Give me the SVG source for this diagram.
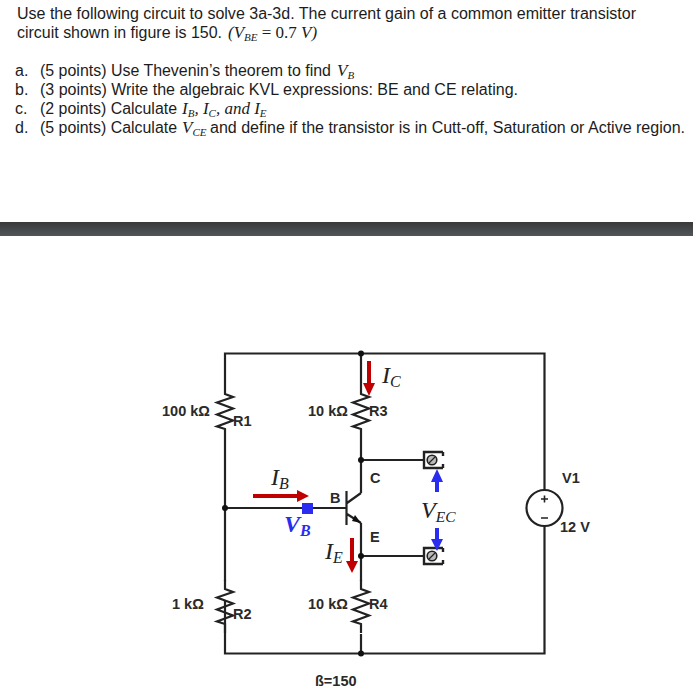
<svg xmlns="http://www.w3.org/2000/svg" width="693" height="699" viewBox="0 0 693 699">
<defs>
<style>
.t{font-family:"Liberation Sans",Arial,sans-serif;font-size:16px;fill:#1c1c1c}
.m{font-family:"Liberation Serif","Times New Roman",serif;font-style:italic;font-size:17px;fill:#1c1c1c}
.l{font-family:"Liberation Sans",Arial,sans-serif;font-size:14.500px;font-weight:bold;fill:#2a2a2a}
.cm{font-family:"Liberation Serif","Times New Roman",serif;font-style:italic;font-size:24px;fill:#222}
.w{fill:none;stroke:#222;stroke-width:2.2}
.red{fill:none;stroke:#c00000;stroke-width:4}
.blue{fill:none;stroke:#2a2cf0;stroke-width:4}
.dot{fill:#111}
</style>
<linearGradient id="bar" x1="0" y1="0" x2="0" y2="1"><stop offset="0" stop-color="#38393b"/><stop offset="1" stop-color="#525558"/></linearGradient>
<g id="term"><path d="M10 -8H-9V8H10" fill="none" stroke="#222" stroke-width="2.4"/><path d="M10 -8V-4M10 4V8" fill="none" stroke="#222" stroke-width="2.4"/><circle cx="-1" cy="0" r="4.8" fill="#bbb" stroke="#222" stroke-width="1.6"/><line x1="-4" y1="3" x2="2" y2="-3" stroke="#222" stroke-width="1.3"/></g>
<path id="res" d="M0 0L0 9L8 12L-8 17.500L8 23.500L-8 29.500L8 35.500L-8 41.500L0 44L0 53"/>
</defs>
<rect width="693" height="699" fill="#fff"/>
<g id="question">
<text class="t" x="17" y="19" textLength="619" lengthAdjust="spacingAndGlyphs">Use the following circuit to solve 3a-3d. The current gain of a common emitter transistor</text>
<text class="t" x="17" y="38" textLength="205" lengthAdjust="spacingAndGlyphs">circuit shown in figure is 150.</text>
<text class="m" x="228" y="38">(V<tspan font-size="11" dy="3">BE</tspan><tspan dy="-3" font-style="normal"> = 0.7 </tspan>V)</text>
<text class="t" x="15" y="76">a.</text>
<text class="t" x="40" y="76" textLength="291" lengthAdjust="spacingAndGlyphs">(5 points) Use Thevenin’s theorem to find</text>
<text class="m" x="337" y="76">V<tspan font-size="11" dy="3">B</tspan></text>
<text class="t" x="15" y="95">b.</text>
<text class="t" x="40" y="95" textLength="478" lengthAdjust="spacingAndGlyphs">(3 points) Write the algebraic KVL expressions: BE and CE relating.</text>
<text class="t" x="15" y="114">c.</text>
<text class="t" x="40" y="114" textLength="137" lengthAdjust="spacingAndGlyphs">(2 points) Calculate</text>
<text class="m" x="182" y="114">I<tspan font-size="11" dy="3">B</tspan><tspan dy="-3">, I</tspan><tspan font-size="11" dy="3">C</tspan><tspan dy="-3">,  and  I</tspan><tspan font-size="11" dy="3">E</tspan></text>
<text class="t" x="15" y="133">d.</text>
<text class="t" x="40" y="133" textLength="137" lengthAdjust="spacingAndGlyphs">(5 points) Calculate</text>
<text class="m" x="182" y="133">V<tspan font-size="11" dy="3">CE</tspan></text>
<text class="t" x="210" y="133" textLength="475" lengthAdjust="spacingAndGlyphs">and define if the transistor is in Cutt-off, Saturation or Active region.</text>
</g>
<rect id="divider" x="0" y="222" width="693" height="14" fill="url(#bar)"/>
<g id="connectors">
<path class="w" d="M225 385V353.500H544.500V490M544.500 526V653.500H225V600M225 438V581M225 508H347M361 353.500V385M361 438V493M361 460H424M361 523V581M361 556H424M361 653.500V634"/>
</g>
<g id="R1"><use href="#res" class="w" x="225" y="385"/><text class="l" x="162" y="416">100 kΩ</text><text class="l" x="233" y="426">R1</text></g>
<g id="R2"><use href="#res" class="w" x="225" y="580"/><text class="l" x="172" y="609">1 kΩ</text><text class="l" x="233" y="619">R2</text></g>
<g id="R3"><use href="#res" class="w" x="361" y="385"/><text class="l" x="308" y="416">10 kΩ</text><text class="l" x="369" y="416">R3</text></g>
<g id="R4"><use href="#res" class="w" x="361" y="580"/><text class="l" x="308" y="609">10 kΩ</text><text class="l" x="369" y="609">R4</text></g>
<g id="Q1">
<path class="w" d="M346.500 491V525M347 503L361 493M347 514L361 523"/>
<path d="M361 523L352 521L355 515Z" fill="#111"/>
<text class="l" x="330" y="503">B</text><text class="l" x="370" y="483">C</text><text class="l" x="370" y="542">E</text>
</g>
<g id="junctions">
<circle class="dot" cx="361" cy="353.500" r="3"/><circle class="dot" cx="361" cy="460" r="3"/><circle class="dot" cx="225" cy="508" r="3"/><circle class="dot" cx="361" cy="556" r="3"/><circle class="dot" cx="361" cy="653.500" r="3"/>
</g>
<g id="V1">
<circle cx="544.500" cy="508" r="18" fill="#fff" stroke="#222" stroke-width="2.2"/>
<path d="M541 499H548M544.500 495.500V502.500M541 518H548" stroke="#222" stroke-width="1.6" fill="none"/>
<text class="l" x="562" y="483">V1</text><text class="l" x="560" y="532">12 V</text>
</g>
<g id="terminals"><use href="#term" x="433" y="460"/><use href="#term" x="433" y="556"/></g>
<g id="VB-probe"><rect x="302" y="503" width="11" height="11" fill="#2a2cf0"/>
<text x="284" y="532" font-family="Liberation Serif,serif" font-style="italic" font-weight="bold" font-size="24" fill="#2a2cf0">V<tspan font-size="16" dy="4">B</tspan></text></g>
<g id="IB"><path class="red" d="M253 496H299"/><path d="M297 490L309 496L297 502Z" fill="#c00000"/><text class="cm" x="271" y="485">I<tspan font-size="16" dy="4">B</tspan></text></g>
<g id="IC"><path class="red" d="M369 361V385"/><path d="M363 383L369 396L375 383Z" fill="#c00000"/><text class="cm" x="382" y="383">I<tspan font-size="16" dy="4">C</tspan></text></g>
<g id="IE"><path class="red" d="M352 538V563"/><path d="M346 561L352 573L358 561Z" fill="#c00000"/><text class="cm" x="325" y="559">I<tspan font-size="16" dy="4">E</tspan></text></g>
<g id="VEC">
<path class="blue" d="M437 492V480M437 528V541"/><path d="M431 482L437 469L443 482ZM431 539L437 551L443 539Z" fill="#2a2cf0"/>
<text class="cm" x="421" y="518">V<tspan font-size="15.500" dy="4">EC</tspan></text>
</g>
<text id="beta" class="l" x="315" y="686">ß=150</text>
</svg>
